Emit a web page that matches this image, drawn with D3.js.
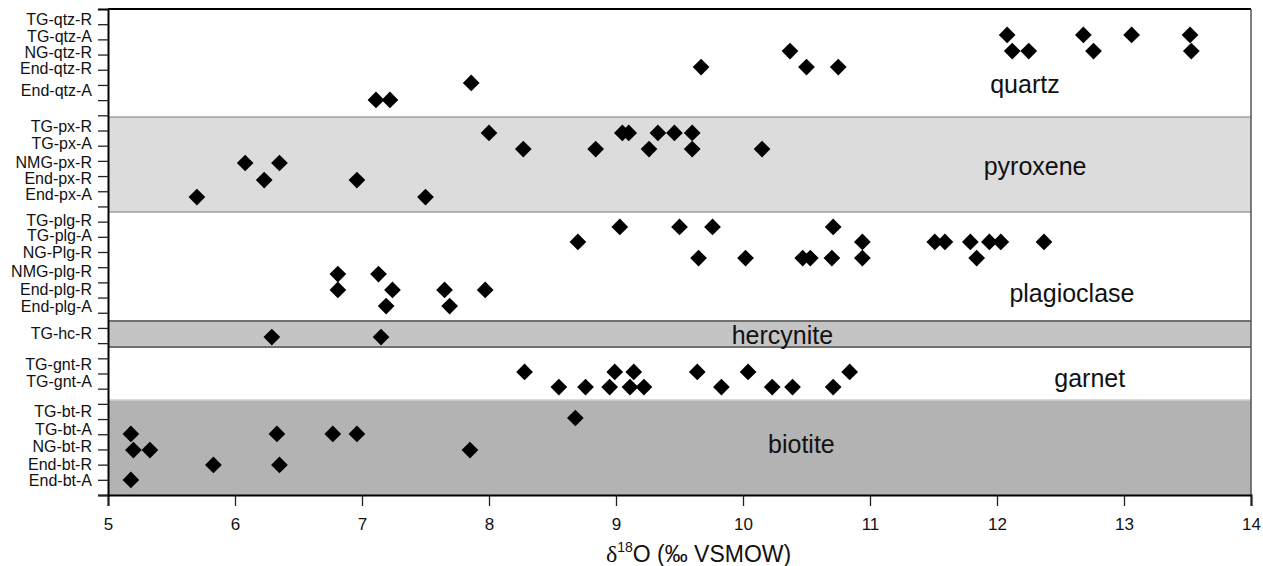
<!DOCTYPE html>
<html>
<head>
<meta charset="utf-8">
<script src="https://cdn.jsdelivr.net/npm/d3@7"></script>
<style>
body { margin: 0; background: #fff; }
text { font-family: "Liberation Sans", Arial, sans-serif; }
</style>
</head>
<body>
<div id="chart"></div>
<script>
// values, y in axis units (0 at bottom, 32 at top)
let categories = [
    'TG-qtz-R', 'TG-qtz-A', 'NG-qtz-R', 'End-qtz-R', 'End-qtz-A',
    'TG-px-R', 'TG-px-A', 'NMG-px-R', 'End-px-R', 'End-px-A',
    'TG-plg-R', 'TG-plg-A', 'NG-Plg-R', 'NMG-plg-R', 'End-plg-R', 'End-plg-A',
    'TG-hc-R',
    'TG-gnt-R', 'TG-gnt-A',
    'TG-bt-R', 'TG-bt-A', 'NG-bt-R', 'End-bt-R', 'End-bt-A'
]
let labelRows = [
    31.3, 30.22, 29.17, 28.12, 26.67,
    24.25, 23.16, 21.88, 20.85, 19.82,
    18.11, 17.07, 15.98, 14.75, 13.56, 12.44,
    10.65,
    8.61, 7.46,
    5.48, 4.33, 3.18, 2.04, 0.99
]

// one entry per row of diamonds
let rowY = [
    30.29, 29.23, 28.18, 27.13, 26.01,
    23.84, 22.78, 21.86, 20.74, 19.62,
    17.65, 16.66, 15.60, 14.55, 13.50, 12.44,
    10.40,
    8.10, 7.11,
    5.07, 4.02, 2.96, 1.98, 0.99
]
let rowX = [
    [12.08, 12.68, 13.06, 13.52],
    [10.37, 12.12, 12.25, 12.76, 13.53],
    [9.67, 10.50, 10.75],
    [7.86],
    [7.11, 7.22],
    [8.00, 9.05, 9.10, 9.33, 9.46, 9.60],
    [8.27, 8.84, 9.26, 9.60, 10.15],
    [6.08, 6.35],
    [6.23, 6.96],
    [5.70, 7.50],
    [9.03, 9.50, 9.76, 10.71],
    [8.70, 10.94, 11.51, 11.59, 11.79, 11.94, 12.03, 12.37],
    [9.65, 10.02, 10.47, 10.53, 10.70, 10.94, 11.84],
    [6.81, 7.13],
    [6.81, 7.24, 7.65, 7.97],
    [7.19, 7.69],
    [6.29, 7.15],
    [8.28, 8.99, 9.14, 9.64, 10.04, 10.84],
    [8.55, 8.76, 8.95, 9.11, 9.22, 9.83, 10.23, 10.39, 10.71],
    [8.68],
    [5.18, 6.33, 6.77, 6.96],
    [5.20, 5.33, 7.85],
    [5.83, 6.35],
    [5.18]
]

let groupNames = ['quartz', 'pyroxene', 'plagioclase', 'hercynite', 'garnet', 'biotite']
let groupTop = [32, 24.89, 18.63, 11.46, 9.74, 6.26]
let groupBottom = [24.89, 18.63, 11.46, 9.74, 6.26, 0]

let xTicks = d3.range(5, 15)
let yTicks = d3.range(0, 32)

// styles
let groupFill = { quartz: '#fff', pyroxene: '#dcdcdc', plagioclase: '#fff', hercynite: '#c4c4c4', garnet: '#fff', biotite: '#b3b3b3' }
let groupEdge = { pyroxene: '#a0a0a0', hercynite: '#707070', biotite: '#cfcfcf' }
// where the group names sit (x value, y axis units, baseline)
let groupLabelAt = {
    quartz: [12.22, 26.47], pyroxene: [12.30, 21.07], plagioclase: [12.59, 12.73],
    hercynite: [10.31, 9.94], garnet: [12.73, 7.13], biotite: [10.46, 2.77]
}

let margin = { top: 9, right: 12, bottom: 71, left: 108 }
let width = 1263 - margin.left - margin.right
let height = 566 - margin.top - margin.bottom

let svg = d3.select('#chart')
    .append('svg')
    .attr('width', width + margin.left + margin.right)
    .attr('height', height + margin.top + margin.bottom)
    .append('g')
    .attr('transform', `translate(${margin.left}, ${margin.top})`)

let x = d3.scaleLinear().domain([5, 14]).range([0, width])
let y = d3.scaleLinear().domain([0, 32]).range([height, 0])

let groups = groupNames.map((name, i) => ({ name, top: groupTop[i], bottom: groupBottom[i] }))

// background bands
svg.selectAll('.band')
    .data(groups)
    .join('rect')
    .attr('class', 'band')
    .attr('x', 0)
    .attr('width', width)
    .attr('y', d => y(d.top))
    .attr('height', d => y(d.bottom) - y(d.top))
    .attr('fill', d => groupFill[d.name])

// band edges
groups.filter(d => groupEdge[d.name]).forEach(d => {
    let edges = d.name == 'biotite' ? [d.top] : [d.top, d.bottom]
    edges.forEach(v => {
        svg.append('line')
            .attr('x1', 0).attr('x2', width)
            .attr('y1', y(v)).attr('y2', y(v))
            .attr('stroke', groupEdge[d.name])
            .attr('stroke-width', d.name == 'hercynite' ? 2 : 1.5)
    })
})

// frame top and right
svg.append('line')
    .attr('x1', 0).attr('x2', width).attr('y1', 0).attr('y2', 0)
    .attr('stroke', '#000').attr('stroke-width', 2)
svg.append('line')
    .attr('x1', width).attr('x2', width).attr('y1', 0).attr('y2', height)
    .attr('stroke', '#555').attr('stroke-width', 1.5)

// x axis
let xAxis = svg.append('g')
    .attr('transform', `translate(0, ${height})`)
    .call(d3.axisBottom(x).tickValues(xTicks).tickSize(11).tickPadding(12).tickFormat(d3.format('d')))
xAxis.select('.domain').attr('stroke-width', 2)
xAxis.selectAll('line').attr('stroke', '#222').attr('stroke-width', 1.3)
xAxis.selectAll('text').style('font-size', '17px').attr('fill', '#111')

// y ticks
let yAxis = svg.append('g')
    .call(d3.axisLeft(y).tickValues(yTicks).tickSize(10).tickFormat(''))
yAxis.select('.domain').attr('stroke-width', 2)
yAxis.selectAll('line').attr('stroke', '#222').attr('stroke-width', 1.3)

// category labels
let labelAxis = svg.append('g')
    .call(d3.axisLeft(y).tickValues(labelRows).tickSize(0).tickPadding(16).tickFormat((d, i) => categories[i]))
labelAxis.select('.domain').remove()
labelAxis.selectAll('text').style('font-size', '16px').attr('fill', '#111')

// diamonds
let points = rowX.flatMap((xs, i) => xs.map(v => ({ x: v, y: rowY[i] })))
svg.selectAll('.pt')
    .data(points)
    .join('path')
    .attr('class', 'pt')
    .attr('d', d3.symbol().type(d3.symbolSquare).size(140))
    .attr('transform', d => `translate(${x(d.x)}, ${y(d.y)}) rotate(45)`)
    .attr('fill', '#000')

// group names
svg.selectAll('.group-label')
    .data(groups)
    .join('text')
    .attr('class', 'group-label')
    .attr('x', d => x(groupLabelAt[d.name][0]))
    .attr('y', d => y(groupLabelAt[d.name][1]))
    .attr('text-anchor', 'middle')
    .style('font-size', '25px')
    .attr('fill', '#111')
    .text(d => d.name)

// x title
let title = svg.append('text')
    .attr('x', x(9.65))
    .attr('y', height + 66.7)
    .attr('text-anchor', 'middle')
    .attr('fill', '#111')
    .style('font-size', '23px')
title.append('tspan').style('font-family', '"Liberation Serif", serif').style('font-size', '24px').text('δ')
title.append('tspan').style('font-size', '14px').attr('dy', -10).text('18')
title.append('tspan').attr('dy', 10).text('O (‰ VSMOW)')
</script>
</body>
</html>
